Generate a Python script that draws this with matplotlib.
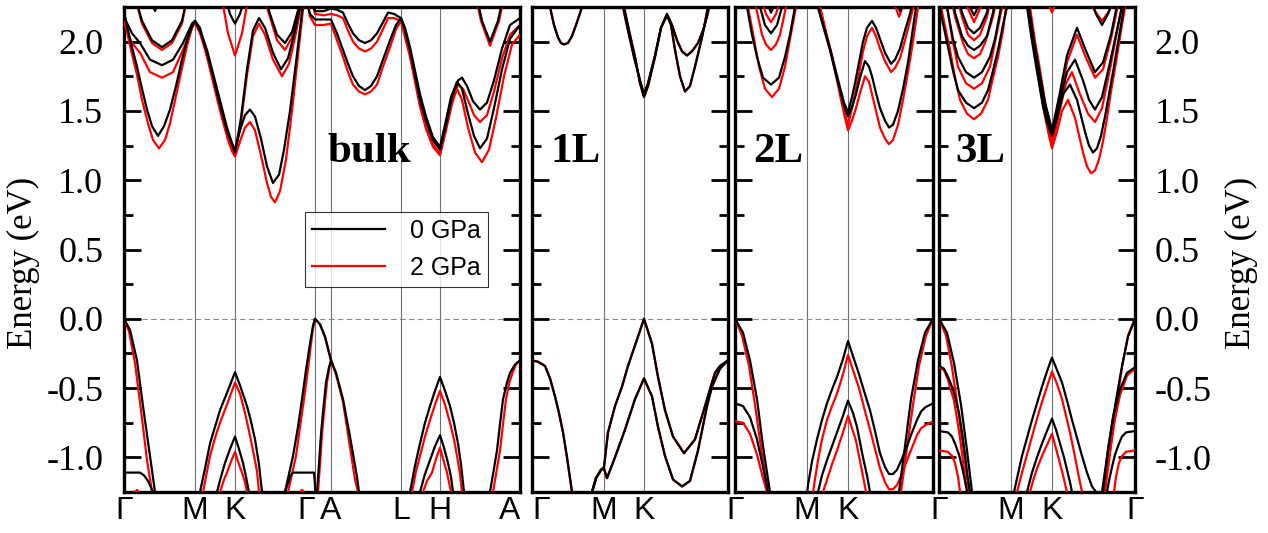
import matplotlib
matplotlib.use('Agg')
import matplotlib.pyplot as plt
from matplotlib.ticker import MultipleLocator
from matplotlib.lines import Line2D

# ---------------- high-symmetry points (k-path coordinate) ----------------
BULK_KPTS = [0, 71, 111, 191, 207, 277, 316, 396]
BULK_KLBL = ['Γ', 'M', 'K', 'Γ', 'A', 'L', 'H', 'A']
L1_KPTS = [0, 72, 112, 196]
L2_KPTS = [0, 72, 113, 198]
L3_KPTS = [0, 72, 113, 196]
LAYER_KLBL = ['Γ', 'M', 'K', 'Γ']

# ---------------- bulk, 0 GPa (black) ----------------
BULK_0GPA = [
    [(0, 0), (6, -0.08), (13, -0.30), (19, -0.63), (26, -0.99), (31, -1.25), (36, -1.5)],
    [(0, -1.11), (8, -1.11), (16, -1.11), (20, -1.13), (24, -1.17), (29, -1.25), (32, -1.4)],
    [(73, -1.4), (76, -1.25), (81, -1.08), (86, -0.90), (91, -0.78), (96, -0.66), (101, -0.57), (106, -0.48),
     (111, -0.385), (116, -0.48), (123, -0.63), (127, -0.74), (131, -0.87), (135, -1.05), (138, -1.25), (140, -1.4)],
    [(90, -1.4), (93, -1.25), (97, -1.14), (101, -1.04), (106, -0.94), (111, -0.85), (115, -0.94), (119, -1.04),
     (122, -1.14), (125, -1.25), (127, -1.4)],
    [(158, -1.5), (161, -1.25), (165, -1.12), (169, -0.99), (174, -0.78), (178, -0.58), (182, -0.37), (186, -0.18),
     (189, -0.05), (191, 0), (196, -0.04), (201, -0.13), (207, -0.30), (212, -0.39), (219, -0.58), (226, -0.85),
     (233, -1.14), (235, -1.25), (238, -1.45)],
    [(192, -1.4), (193, -1.25), (195, -1.05), (197, -0.83), (200, -0.60), (202, -0.46), (205, -0.35), (207, -0.30)],
    [(158, -1.45), (161, -1.25), (166, -1.14), (169, -1.11), (180, -1.11), (190, -1.11), (191, -1.2), (192, -1.4)],
    [(283, -1.4), (286, -1.25), (291, -1.06), (296, -0.90), (301, -0.75), (306, -0.63), (311, -0.52), (316, -0.42),
     (321, -0.52), (326, -0.63), (330, -0.75), (334, -0.90), (337, -1.05), (340, -1.25), (342, -1.4)],
    [(293, -1.4), (296, -1.25), (301, -1.12), (306, -1.02), (311, -0.92), (316, -0.84), (320, -0.93), (324, -1.04),
     (327, -1.14), (329, -1.25), (331, -1.4)],
    [(363, -1.45), (366, -1.25), (370, -1.08), (373, -0.95), (376, -0.76), (379, -0.58), (383, -0.46), (386, -0.39),
     (391, -0.33), (396, -0.30)],
    # conduction bands
    [(0, 2.22), (3, 2.11), (8, 1.96), (13, 1.82), (18, 1.66), (23, 1.51), (28, 1.39), (34, 1.32), (40, 1.39),
     (46, 1.51), (52, 1.68), (58, 1.87), (63, 2.01), (68, 2.11), (71, 2.15), (76, 2.10), (83, 1.92), (88, 1.78),
     (93, 1.63), (98, 1.49), (103, 1.36), (107, 1.28), (111, 1.22), (116, 1.36), (121, 1.47), (126, 1.51),
     (131, 1.46), (137, 1.30), (143, 1.10), (149, 0.98), (155, 1.04), (160, 1.22), (166, 1.50), (172, 1.85),
     (178, 2.21), (180, 2.35)],
    [(0, 2.18), (8, 2.06), (16, 1.99), (26, 1.87), (38, 1.83), (49, 1.87), (59, 1.99), (68, 2.13), (71, 2.15),
     (76, 2.08), (83, 1.94), (93, 1.66), (103, 1.38), (111, 1.20), (117, 1.45), (123, 1.80), (129, 2.08),
     (135, 2.17), (141, 2.10), (149, 1.92), (157, 1.80), (164, 1.88), (170, 2.05), (176, 2.25), (178, 2.35)],
    [(10, 2.35), (18, 2.15), (28, 2.01), (38, 1.96), (48, 2.01), (58, 2.15), (64, 2.35)],
    [(24, 2.35), (31, 2.22), (38, 2.35)],
    [(100, 2.35), (106, 2.20), (111, 2.13), (116, 2.20), (122, 2.35)],
    [(140, 2.35), (146, 2.20), (153, 2.05), (161, 1.99), (168, 2.07), (175, 2.25), (178, 2.35)],
    [(180, 2.35), (186, 2.20), (191, 2.16), (199, 2.16), (207, 2.16), (213, 2.06), (219, 1.94), (224, 1.84),
     (229, 1.75), (235, 1.68), (241, 1.65), (247, 1.68), (253, 1.75), (259, 1.87), (266, 2.01), (272, 2.12),
     (277, 2.17), (281, 2.08), (286, 1.94), (291, 1.76), (296, 1.58), (302, 1.43), (309, 1.29), (316, 1.22),
     (322, 1.40), (328, 1.60), (334, 1.72), (338, 1.74), (343, 1.68), (349, 1.57), (356, 1.51), (363, 1.56),
     (370, 1.72), (378, 1.95), (386, 2.12), (396, 2.17)],
    [(185, 2.35), (191, 2.22), (200, 2.22), (207, 2.24), (213, 2.23), (219, 2.21), (224, 2.13), (229, 2.06),
     (235, 2.01), (241, 1.99), (247, 2.01), (253, 2.06), (259, 2.14), (264, 2.21), (270, 2.20), (277, 2.17),
     (281, 2.10), (286, 1.96), (291, 1.79), (296, 1.62), (302, 1.46), (309, 1.31), (316, 1.24), (321, 1.40),
     (327, 1.60), (333, 1.71), (338, 1.66), (344, 1.48), (350, 1.32), (356, 1.23), (363, 1.30), (370, 1.52),
     (378, 1.80), (386, 2.02), (396, 2.12)],
    [(352, 2.35), (358, 2.15), (366, 2.00), (374, 2.15), (380, 2.35)],
]

# ---------------- bulk, 2 GPa (red) ----------------
BULK_2GPA = [
    [(0, 0), (5, -0.09), (11, -0.32), (17, -0.66), (23, -1.02), (28, -1.25), (33, -1.5)],
    [(7, -1.32), (10, -1.26), (13, -1.235), (16, -1.26), (19, -1.32)],
    [(76, -1.4), (79, -1.25), (83, -1.10), (86, -0.99), (91, -0.86), (96, -0.75), (104, -0.60), (111, -0.46),
     (116, -0.54), (121, -0.68), (125, -0.81), (129, -0.95), (133, -1.10), (135, -1.25), (137, -1.4)],
    [(93, -1.4), (96, -1.25), (100, -1.16), (103, -1.11), (107, -1.03), (111, -0.96), (114, -1.03), (118, -1.11),
     (121, -1.18), (123, -1.25), (125, -1.4)],
    [(161, -1.5), (164, -1.25), (168, -1.12), (172, -0.99), (176, -0.78), (180, -0.58), (184, -0.36), (187, -0.18),
     (189, -0.07), (191, 0), (196, -0.04), (201, -0.13), (207, -0.30), (212, -0.40), (219, -0.60), (225, -0.88),
     (231, -1.16), (234, -1.25), (237, -1.45)],
    [(193, -1.4), (194, -1.25), (196, -1.05), (198, -0.83), (201, -0.60), (203, -0.46), (205, -0.37), (207, -0.30)],
    [(172, -1.32), (175, -1.26), (178, -1.235), (181, -1.26), (184, -1.32)],
    [(285, -1.4), (288, -1.25), (292, -1.10), (296, -0.99), (301, -0.85), (306, -0.73), (311, -0.62), (316, -0.52),
     (321, -0.62), (326, -0.75), (330, -0.87), (333, -0.99), (336, -1.12), (338, -1.25), (340, -1.4)],
    [(296, -1.4), (299, -1.25), (303, -1.17), (308, -1.11), (312, -1.01), (316, -0.93), (319, -1.01), (323, -1.11),
     (325, -1.18), (327, -1.25), (329, -1.4)],
    [(366, -1.45), (369, -1.25), (373, -1.08), (376, -0.95), (379, -0.76), (382, -0.58), (385, -0.47), (388, -0.40),
     (392, -0.33), (396, -0.30)],
    # conduction bands
    [(0, 2.18), (3, 2.07), (8, 1.91), (13, 1.76), (18, 1.58), (24, 1.41), (29, 1.29), (35, 1.23), (41, 1.29),
     (46, 1.41), (52, 1.61), (58, 1.81), (63, 1.97), (68, 2.10), (71, 2.14), (76, 2.08), (84, 1.86), (89, 1.71),
     (94, 1.56), (99, 1.42), (104, 1.29), (108, 1.21), (111, 1.17), (116, 1.28), (121, 1.38), (126, 1.42),
     (131, 1.36), (137, 1.18), (143, 0.98), (147, 0.88), (151, 0.84), (156, 0.92), (162, 1.15), (168, 1.50),
     (174, 1.90), (180, 2.30), (181, 2.35)],
    [(0, 2.13), (8, 1.99), (16, 1.92), (26, 1.78), (38, 1.74), (49, 1.78), (59, 1.94), (68, 2.10), (71, 2.14),
     (76, 2.06), (84, 1.88), (94, 1.60), (104, 1.32), (111, 1.18), (117, 1.42), (123, 1.76), (129, 2.04),
     (135, 2.13), (141, 2.05), (149, 1.87), (158, 1.75), (165, 1.84), (171, 2.03), (177, 2.25), (179, 2.35)],
    [(10, 2.35), (18, 2.13), (28, 1.99), (38, 1.94), (48, 1.99), (58, 2.13), (64, 2.35)],
    [(97, 2.35), (104, 2.06), (111, 1.90), (118, 2.06), (125, 2.35)],
    [(139, 2.35), (145, 2.20), (153, 2.01), (161, 1.94), (168, 2.03), (175, 2.25), (179, 2.35)],
    [(182, 2.35), (186, 2.18), (191, 2.12), (199, 2.12), (207, 2.13), (213, 2.01), (219, 1.89), (224, 1.78),
     (229, 1.69), (235, 1.64), (241, 1.62), (247, 1.64), (253, 1.69), (259, 1.82), (266, 1.96), (272, 2.09),
     (277, 2.15), (281, 2.03), (286, 1.89), (291, 1.71), (296, 1.53), (302, 1.37), (309, 1.24), (316, 1.18),
     (322, 1.36), (328, 1.55), (334, 1.69), (339, 1.66), (345, 1.56), (350, 1.47), (356, 1.42), (363, 1.47),
     (370, 1.64), (378, 1.88), (386, 2.05), (396, 2.12)],
    [(187, 2.35), (191, 2.20), (200, 2.19), (207, 2.20), (213, 2.19), (219, 2.17), (224, 2.08), (229, 2.00),
     (235, 1.95), (241, 1.93), (247, 1.95), (253, 2.00), (259, 2.09), (264, 2.17), (270, 2.17), (277, 2.15),
     (281, 2.05), (286, 1.91), (291, 1.74), (296, 1.56), (302, 1.40), (309, 1.26), (316, 1.19), (321, 1.35),
     (327, 1.55), (333, 1.66), (338, 1.58), (344, 1.38), (351, 1.20), (358, 1.13), (365, 1.22), (372, 1.45),
     (380, 1.75), (388, 1.98), (396, 2.05)],
    [(351, 2.35), (357, 2.15), (366, 1.97), (375, 2.15), (381, 2.35)],
]

# ---------------- monolayer (both pressures nearly identical) ----------------
L1_0GPA = [
    [(0, -0.30), (6, -0.31), (13, -0.34), (18, -0.43), (23, -0.56), (27, -0.68), (31, -0.82), (35, -1.0),
     (40, -1.25), (44, -1.5), (50, -1.7), (56, -1.5), (60, -1.25), (64, -1.15), (69, -1.09), (72, -1.07),
     (76, -0.82), (83, -0.63), (90, -0.49), (96, -0.34), (105, -0.15), (112, 0), (120, -0.18), (126, -0.42),
     (133, -0.66), (141, -0.85), (152, -0.97), (163, -0.87), (173, -0.63), (180, -0.46), (183, -0.39),
     (188, -0.34), (196, -0.30)],
    [(56, -1.5), (60, -1.25), (64, -1.15), (69, -1.09), (72, -1.08), (75, -1.15), (83, -1.0), (93, -0.80),
     (103, -0.58), (112, -0.43), (120, -0.56), (126, -0.78), (133, -0.99), (141, -1.16), (150, -1.21),
     (158, -1.17), (166, -0.95), (175, -0.63), (180, -0.49), (188, -0.36), (196, -0.30)],
    [(14, 2.35), (18, 2.25), (22, 2.12), (26, 2.03), (29, 1.99), (32, 1.98), (36, 1.99), (40, 2.04), (45, 2.14),
     (50, 2.25), (54, 2.35)],
    [(90, 2.35), (92, 2.25), (97, 2.08), (103, 1.89), (108, 1.70), (112, 1.60), (116, 1.68), (123, 1.89),
     (129, 2.10), (135, 2.19), (139, 2.12), (143, 1.94), (148, 1.75), (153, 1.64), (158, 1.68), (163, 1.82),
     (170, 2.03), (176, 2.25), (178, 2.35)],
    [(89, 2.35), (91, 2.25), (96, 2.08), (102, 1.89), (108, 1.72), (112, 1.62), (116, 1.70), (123, 1.90),
     (129, 2.10), (135, 2.20), (140, 2.12), (145, 2.01), (150, 1.93), (155, 1.90), (160, 1.93), (166, 1.99),
     (172, 2.10), (176, 2.21), (179, 2.35)],
]
L1_2GPA = L1_0GPA

# ---------------- bilayer ----------------
L2_0GPA = [
    [(0, 0), (8, -0.10), (15, -0.30), (22, -0.58), (28, -0.92), (35, -1.25), (40, -1.5)],
    [(0, -0.61), (8, -0.63), (15, -0.71), (22, -0.87), (28, -1.07), (33, -1.25), (38, -1.5)],
    [(70, -1.4), (73, -1.20), (77, -1.03), (82, -0.87), (87, -0.73), (92, -0.61), (97, -0.51), (102, -0.42),
     (108, -0.29), (113, -0.16), (118, -0.27), (124, -0.40), (129, -0.52), (135, -0.66), (140, -0.81),
     (145, -0.97), (150, -1.07), (154, -1.12), (158, -1.12), (162, -1.09), (167, -1.01), (172, -0.92),
     (177, -0.82), (182, -0.73), (186, -0.67), (190, -0.64), (198, -0.61)],
    [(80, -1.4), (83, -1.25), (87, -1.13), (92, -1.02), (97, -0.92), (102, -0.82), (108, -0.70), (113, -0.59),
     (118, -0.68), (122, -0.78), (125, -0.89), (128, -1.0), (132, -1.13), (135, -1.25), (138, -1.4)],
    [(159, -1.5), (164, -1.25), (170, -0.92), (176, -0.58), (183, -0.30), (190, -0.10), (198, 0)],
    [(10, 2.35), (12, 2.25), (17, 2.05), (22, 1.89), (28, 1.74), (36, 1.69), (44, 1.74), (50, 1.89), (55, 2.05),
     (60, 2.25), (62, 2.35)],
    [(22, 2.35), (25, 2.25), (30, 2.12), (36, 2.06), (42, 2.12), (47, 2.25), (50, 2.35)],
    [(29, 2.32), (36, 2.21), (43, 2.32)],
    [(80, 2.40), (83, 2.25), (89, 2.09), (95, 1.94), (100, 1.79), (105, 1.65), (109, 1.54), (113, 1.46),
     (117, 1.53), (121, 1.62), (125, 1.74), (130, 1.86), (134, 1.82), (137, 1.75), (141, 1.63), (145, 1.52),
     (150, 1.43), (154, 1.38), (158, 1.40), (163, 1.50), (168, 1.66), (173, 1.85), (177, 2.05), (181, 2.25),
     (183, 2.35)],
    [(80, 2.40), (83, 2.25), (89, 2.10), (95, 1.95), (100, 1.81), (105, 1.67), (109, 1.56), (113, 1.49),
     (117, 1.60), (120, 1.70), (124, 1.85), (128, 2.00), (132, 2.10), (137, 2.15), (141, 2.10), (145, 2.02),
     (150, 1.92), (156, 1.84), (160, 1.87), (165, 1.95), (170, 2.08), (175, 2.20), (178, 2.30)],
    [(160, 2.30), (165, 2.22), (170, 2.30)],
]
L2_2GPA = [
    [(0, 0), (7, -0.12), (14, -0.34), (20, -0.62), (26, -0.93), (33, -1.25), (37, -1.5)],
    [(0, -0.74), (8, -0.75), (15, -0.83), (22, -0.98), (28, -1.15), (32, -1.25), (36, -1.5)],
    [(75, -1.4), (78, -1.25), (83, -1.02), (87, -0.87), (92, -0.73), (97, -0.63), (102, -0.54), (108, -0.40),
     (113, -0.26), (118, -0.37), (124, -0.50), (129, -0.64), (135, -0.80), (140, -0.94), (145, -1.08),
     (150, -1.18), (154, -1.23), (158, -1.23), (162, -1.20), (167, -1.12), (172, -1.02), (177, -0.93),
     (182, -0.84), (186, -0.79), (190, -0.77), (198, -0.74)],
    [(85, -1.4), (88, -1.25), (93, -1.14), (97, -1.05), (102, -0.95), (108, -0.82), (113, -0.70), (117, -0.79),
     (121, -0.88), (124, -0.99), (127, -1.10), (131, -1.25), (134, -1.4)],
    [(161, -1.5), (166, -1.25), (172, -0.93), (178, -0.62), (184, -0.34), (191, -0.12), (198, 0)],
    [(11, 2.35), (13, 2.25), (19, 2.02), (24, 1.82), (30, 1.66), (37, 1.60), (44, 1.66), (50, 1.82), (55, 2.02),
     (61, 2.25), (63, 2.35)],
    [(18, 2.35), (21, 2.25), (27, 2.05), (31, 1.98), (36, 1.94), (41, 1.98), (45, 2.05), (51, 2.25), (54, 2.35)],
    [(26, 2.32), (31, 2.20), (36, 2.14), (41, 2.20), (46, 2.32)],
    [(82, 2.40), (85, 2.25), (91, 2.06), (97, 1.89), (102, 1.72), (106, 1.58), (110, 1.45), (113, 1.36),
     (117, 1.43), (121, 1.52), (125, 1.63), (130, 1.75), (134, 1.71), (137, 1.62), (141, 1.50), (145, 1.38),
     (150, 1.30), (154, 1.26), (158, 1.29), (163, 1.40), (168, 1.58), (173, 1.78), (178, 2.00), (183, 2.25),
     (185, 2.35)],
    [(82, 2.40), (85, 2.25), (91, 2.07), (97, 1.90), (102, 1.74), (106, 1.60), (110, 1.48), (113, 1.40),
     (117, 1.52), (120, 1.62), (124, 1.77), (128, 1.93), (132, 2.04), (137, 2.10), (141, 2.04), (145, 1.95),
     (150, 1.86), (156, 1.78), (160, 1.81), (165, 1.88), (170, 2.01), (175, 2.15), (180, 2.30)],
    [(158, 2.30), (164, 2.18), (170, 2.30)],
]

# ---------------- trilayer ----------------
L3_0GPA = [
    [(0, 0), (8, -0.10), (15, -0.32), (22, -0.62), (28, -0.95), (33, -1.25), (38, -1.5)],
    [(0, -0.34), (5, -0.36), (9, -0.42), (13, -0.49), (16, -0.56), (20, -0.68), (23, -0.82), (26, -0.98),
     (29, -1.16), (31, -1.25), (35, -1.5)],
    [(0, -0.81), (9, -0.82), (13, -0.85), (16, -0.90), (20, -0.98), (23, -1.07), (26, -1.17), (28, -1.25),
     (32, -1.5)],
    [(72, -1.45), (75, -1.25), (79, -1.12), (83, -0.99), (88, -0.86), (93, -0.73), (98, -0.61), (103, -0.49),
     (108, -0.38), (113, -0.28), (118, -0.37), (123, -0.46), (128, -0.59), (133, -0.73), (138, -0.86),
     (143, -0.99), (148, -1.11), (153, -1.21), (157, -1.25), (160, -1.4)],
    [(85, -1.4), (88, -1.25), (93, -1.11), (98, -1.00), (103, -0.90), (108, -0.81), (113, -0.72), (117, -0.80),
     (121, -0.90), (125, -1.00), (128, -1.09), (131, -1.18), (133, -1.25), (136, -1.4)],
    [(159, -1.5), (164, -1.25), (169, -0.94), (176, -0.63), (183, -0.34), (189, -0.13), (196, 0)],
    [(158, -1.5), (163, -1.25), (168, -1.0), (174, -0.71), (181, -0.51), (188, -0.39), (196, -0.35)],
    [(164, -1.5), (168, -1.25), (170, -1.17), (173, -1.07), (176, -0.98), (180, -0.90), (183, -0.85),
     (187, -0.82), (196, -0.81)],
    [(0, 2.32), (2, 2.20), (9, 1.96), (14, 1.79), (19, 1.65), (27, 1.56), (35, 1.52), (43, 1.56), (49, 1.65),
     (54, 1.79), (59, 1.94), (64, 2.12), (68, 2.25), (70, 2.32)],
    [(6, 2.32), (9, 2.21), (14, 2.02), (19, 1.89), (27, 1.78), (35, 1.74), (43, 1.78), (51, 1.89), (56, 2.02),
     (61, 2.21), (64, 2.32)],
    [(13, 2.32), (16, 2.21), (23, 2.04), (29, 1.97), (35, 1.94), (41, 1.97), (48, 2.04), (54, 2.21), (57, 2.32)],
    [(19, 2.32), (23, 2.21), (29, 2.10), (35, 2.06), (41, 2.10), (48, 2.21), (51, 2.32)],
    [(26, 2.32), (35, 2.19), (44, 2.32)],
    [(85, 2.40), (88, 2.25), (92, 2.05), (96, 1.87), (100, 1.70), (104, 1.53), (108, 1.42), (113, 1.32),
     (118, 1.45), (124, 1.62), (131, 1.69), (138, 1.58), (146, 1.35), (150, 1.25), (154, 1.20), (158, 1.23),
     (162, 1.32), (166, 1.46), (170, 1.62), (174, 1.78), (178, 1.95), (182, 2.12), (185, 2.25), (187, 2.35)],
    [(86, 2.40), (89, 2.25), (93, 2.05), (97, 1.87), (101, 1.70), (105, 1.54), (109, 1.43), (113, 1.34),
     (120, 1.55), (128, 1.78), (136, 1.87), (144, 1.72), (150, 1.58), (156, 1.51), (163, 1.60), (171, 1.85),
     (180, 2.15), (184, 2.30)],
    [(87, 2.40), (90, 2.25), (94, 2.05), (98, 1.88), (102, 1.72), (106, 1.56), (110, 1.45), (113, 1.36),
     (120, 1.60), (128, 1.90), (138, 2.10), (146, 1.95), (156, 1.78), (164, 1.85), (172, 2.05), (179, 2.30)],
    [(152, 2.30), (157, 2.20), (163, 2.12), (169, 2.20), (174, 2.30)],
]
L3_2GPA = [
    [(0, 0), (7, -0.12), (13, -0.35), (19, -0.65), (25, -0.97), (30, -1.25), (35, -1.5)],
    [(0, -0.35), (5, -0.37), (9, -0.44), (12, -0.52), (15, -0.59), (18, -0.72), (21, -0.86), (24, -1.03),
     (27, -1.20), (29, -1.25), (33, -1.5)],
    [(0, -0.95), (9, -0.96), (13, -0.99), (16, -1.04), (19, -1.14), (21, -1.25), (25, -1.5)],
    [(75, -1.45), (78, -1.25), (83, -1.11), (88, -0.98), (93, -0.85), (98, -0.72), (103, -0.60), (108, -0.49),
     (113, -0.38), (118, -0.47), (123, -0.58), (127, -0.70), (131, -0.82), (135, -0.96), (139, -1.11),
     (143, -1.25), (146, -1.4)],
    [(88, -1.4), (91, -1.25), (94, -1.17), (98, -1.08), (103, -0.99), (108, -0.91), (113, -0.83), (116, -0.91),
     (119, -0.99), (123, -1.10), (126, -1.19), (128, -1.25), (131, -1.4)],
    [(161, -1.5), (166, -1.25), (171, -0.97), (177, -0.65), (183, -0.35), (189, -0.12), (196, 0)],
    [(160, -1.5), (165, -1.25), (169, -1.05), (175, -0.76), (181, -0.55), (188, -0.41), (196, -0.36)],
    [(171, -1.5), (175, -1.25), (177, -1.14), (180, -1.04), (183, -0.99), (187, -0.96), (196, -0.95)],
    [(1, 2.32), (2, 2.25), (11, 1.94), (16, 1.74), (21, 1.58), (28, 1.48), (35, 1.44), (42, 1.48), (49, 1.58),
     (54, 1.74), (59, 1.89), (64, 2.08), (67, 2.25), (69, 2.32)],
    [(5, 2.32), (8, 2.25), (13, 2.03), (19, 1.82), (27, 1.70), (35, 1.66), (43, 1.70), (51, 1.82), (57, 2.03),
     (63, 2.25), (65, 2.32)],
    [(12, 2.32), (16, 2.18), (24, 1.99), (29, 1.91), (35, 1.88), (41, 1.91), (46, 1.99), (54, 2.18), (58, 2.32)],
    [(18, 2.32), (23, 2.18), (29, 2.05), (35, 2.01), (41, 2.05), (48, 2.18), (52, 2.32)],
    [(24, 2.32), (35, 2.14), (46, 2.32)],
    [(86, 2.40), (89, 2.25), (94, 2.00), (98, 1.84), (102, 1.64), (106, 1.46), (110, 1.32), (113, 1.23),
     (118, 1.35), (123, 1.50), (129, 1.58), (136, 1.45), (144, 1.20), (148, 1.10), (152, 1.05), (156, 1.07),
     (160, 1.15), (164, 1.28), (168, 1.45), (172, 1.64), (177, 1.85), (182, 2.08), (186, 2.25), (188, 2.35)],
    [(87, 2.40), (90, 2.25), (95, 2.00), (99, 1.83), (103, 1.64), (107, 1.47), (110, 1.35), (113, 1.25),
     (120, 1.48), (127, 1.70), (133, 1.78), (141, 1.62), (149, 1.48), (156, 1.42), (163, 1.52), (171, 1.80),
     (180, 2.15), (185, 2.30)],
    [(88, 2.40), (91, 2.25), (96, 2.00), (100, 1.84), (104, 1.66), (108, 1.48), (111, 1.36), (113, 1.27),
     (120, 1.55), (128, 1.85), (138, 2.05), (146, 1.90), (156, 1.74), (164, 1.80), (172, 2.02), (180, 2.30)],
    [(150, 2.30), (156, 2.22), (163, 2.15), (170, 2.22), (176, 2.30)],
    [(108, 2.30), (113, 2.21), (118, 2.30)],
]

PANEL_LABELS = ['bulk', '1L', '2L', '3L']
LEGEND_LABELS = ['0 GPa', '2 GPa']
YTICKS = [-1.0, -0.5, 0.0, 0.5, 1.0, 1.5, 2.0]
YMIN, YMAX = -1.25, 2.25

# ---------------- figure ----------------
W, H = 1268, 533
fig = plt.figure(figsize=(W / 100, H / 100), dpi=100)
SERIF = ['Liberation Serif', 'DejaVu Serif']
SANS = ['Liberation Sans', 'DejaVu Sans']

panel_px = [(124, 520), (532, 728), (735, 933), (939, 1135)]
top_px, bot_px = 7, 492
panels = [
    (BULK_KPTS, BULK_KLBL, BULK_0GPA, BULK_2GPA),
    (L1_KPTS, LAYER_KLBL, L1_0GPA, L1_2GPA),
    (L2_KPTS, LAYER_KLBL, L2_0GPA, L2_2GPA),
    (L3_KPTS, LAYER_KLBL, L3_0GPA, L3_2GPA),
]
label_pos = [(0.513, 0.70), (0.092, 0.70), (0.091, 0.70), (0.082, 0.70)]

axes = []
for i, ((l, r), (kpts, klbl, b0, b2)) in enumerate(zip(panel_px, panels)):
    ax = fig.add_axes([l / W, (H - bot_px) / H, (r - l) / W, (bot_px - top_px) / H])
    axes.append(ax)
    for band in b2:
        ks, es = zip(*band)
        ax.plot(ks, es, color='#ff0000', lw=1.6, solid_joinstyle='round', zorder=3)
    for band in b0:
        ks, es = zip(*band)
        ax.plot(ks, es, color='black', lw=1.6, solid_joinstyle='round', zorder=4)
    for kp in kpts[1:-1]:
        ax.axvline(kp, color='#707070', lw=0.8, zorder=1)
    ax.axhline(0, color='#888888', lw=0.8, ls=(0, (5, 3)), zorder=1)
    ax.set_xlim(kpts[0], kpts[-1])
    ax.set_ylim(YMIN, YMAX)
    ax.set_xticks(kpts)
    labels = list(klbl)
    # shared Γ between neighbouring layer panels is printed only once
    if i in (1, 2):
        labels[-1] = ''
    ax.set_xticklabels(labels, fontfamily=SANS, fontsize=23)
    ax.tick_params(axis='x', length=0, pad=3)
    tl = ax.get_xticklabels()
    if i == 0:
        tl[3].set_ha('right')
        tl[-1].set_ha('right')
    if i == 1:
        tl[0].set_ha('left')
    ax.yaxis.set_major_locator(MultipleLocator(0.5))
    ax.yaxis.set_minor_locator(MultipleLocator(0.25))
    ax.tick_params(axis='y', which='both', direction='in', left=True, right=True, width=2.0)
    ax.tick_params(axis='y', which='major', length=12)
    ax.tick_params(axis='y', which='minor', length=6.5)
    ax.tick_params(axis='y', labelleft=False, labelright=False)
    for s in ax.spines.values():
        s.set_linewidth(2.4)
    ax.text(label_pos[i][0], label_pos[i][1], PANEL_LABELS[i], transform=ax.transAxes,
            fontfamily=SERIF, fontweight='bold', fontsize=31, ha='left', va='center', zorder=6)

# y tick labels and axis titles on the outer panels
for ax, side in ((axes[0], 'left'), (axes[-1], 'right')):
    ax.set_yticks(YTICKS)
    ax.set_yticklabels(['%.1f' % v for v in YTICKS], fontfamily=SERIF, fontsize=26)
    ax.set_ylabel('Energy (eV)', fontfamily=SERIF, fontsize=25)
    if side == 'left':
        ax.tick_params(axis='y', labelleft=True, pad=15)
        ax.yaxis.set_label_coords(-0.212, 0.472)
    else:
        ax.tick_params(axis='y', labelright=True, pad=14)
        ax.yaxis.set_label_position('right')
        ax.yaxis.set_label_coords(1.459, 0.472)

# legend
handles = [Line2D([], [], color='black', lw=1.6), Line2D([], [], color='#ff0000', lw=1.6)]
leg = axes[0].legend(handles, LEGEND_LABELS, loc='upper left', bbox_to_anchor=(0.457, 0.578),
                     prop={'family': SANS, 'size': 18}, frameon=True, fancybox=False,
                     edgecolor='black', handlelength=2.9, borderpad=0.3, labelspacing=0.5,
                     handletextpad=1.0, borderaxespad=0)
leg.get_frame().set_linewidth(0.8)
leg.set_zorder(10)

fig.savefig('out.png', dpi=100)
